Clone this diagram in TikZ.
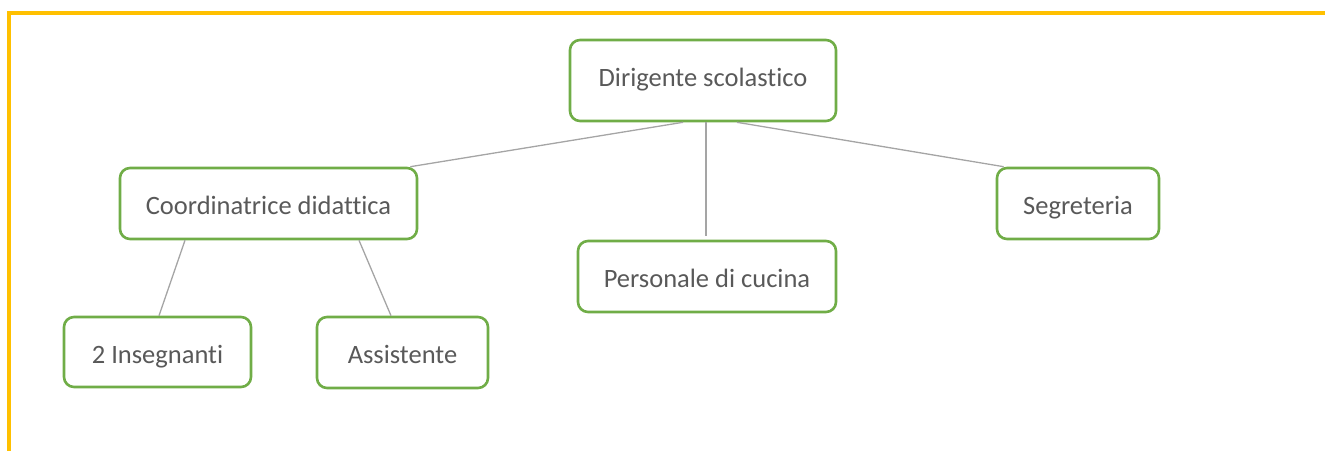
\documentclass[tikz,border=0pt]{standalone}
\usepackage{fontspec}
\setmainfont{Carlito}[Ligatures={NoCommon}]
\definecolor{frameyellow}{HTML}{FFC000}
\definecolor{boxgreen}{HTML}{70AD47}
\definecolor{txtgrey}{HTML}{595959}
\definecolor{linegrey}{HTML}{A5A5A5}
\tikzset{
  orgbox/.style={draw=boxgreen, line width=2.6pt, rounded corners=10pt, fill=white,
    text=txtgrey, inner sep=0pt, font=\fontsize{26.5}{30}\selectfont,
    text height=28pt, text depth=6pt},
  topbox/.style={orgbox, text height=17pt, text depth=6pt},
  link/.style={draw=linegrey, line width=1.3pt},
}
\begin{document}
\begin{tikzpicture}[x=1pt,y=-1pt]
\useasboundingbox (0,0) rectangle (1325,450);
\draw[frameyellow, line width=4pt] (9,452) -- (9,13) -- (1330,13);
\node[topbox, minimum width=266pt, minimum height=81pt] (dir) at (703,80.5) {Dirigente scolastico};
\node[orgbox, minimum width=297pt, minimum height=71pt] (coord) at (268.5,203.5) {Coordinatrice didattica};
\node[orgbox, minimum width=162pt, minimum height=71pt] (seg) at (1078,203.5) {Segreteria};
\node[orgbox, minimum width=258pt, minimum height=71pt] (pers) at (707,276.5) {Personale di cucina};
\node[orgbox, minimum width=187pt, minimum height=70pt] (ins) at (157.5,352) {2 Insegnanti};
\node[orgbox, minimum width=171pt, minimum height=71pt] (ass) at (402.5,352.5) {Assistente};
\draw[link] ([xshift=-20pt]dir.south) -- ([xshift=-8pt]coord.north east);
\draw[link] ([xshift=3pt]dir.south) -- ([xshift=-1pt,yshift=4pt]pers.north);
\draw[link] ([xshift=34pt]dir.south) -- ([xshift=8pt]seg.north west);
\draw[link] ([xshift=-83.5pt]coord.south) -- ([xshift=1.5pt]ins.north);
\draw[link] ([xshift=90.5pt]coord.south) -- ([xshift=-11.5pt]ass.north);
\end{tikzpicture}
\end{document}
